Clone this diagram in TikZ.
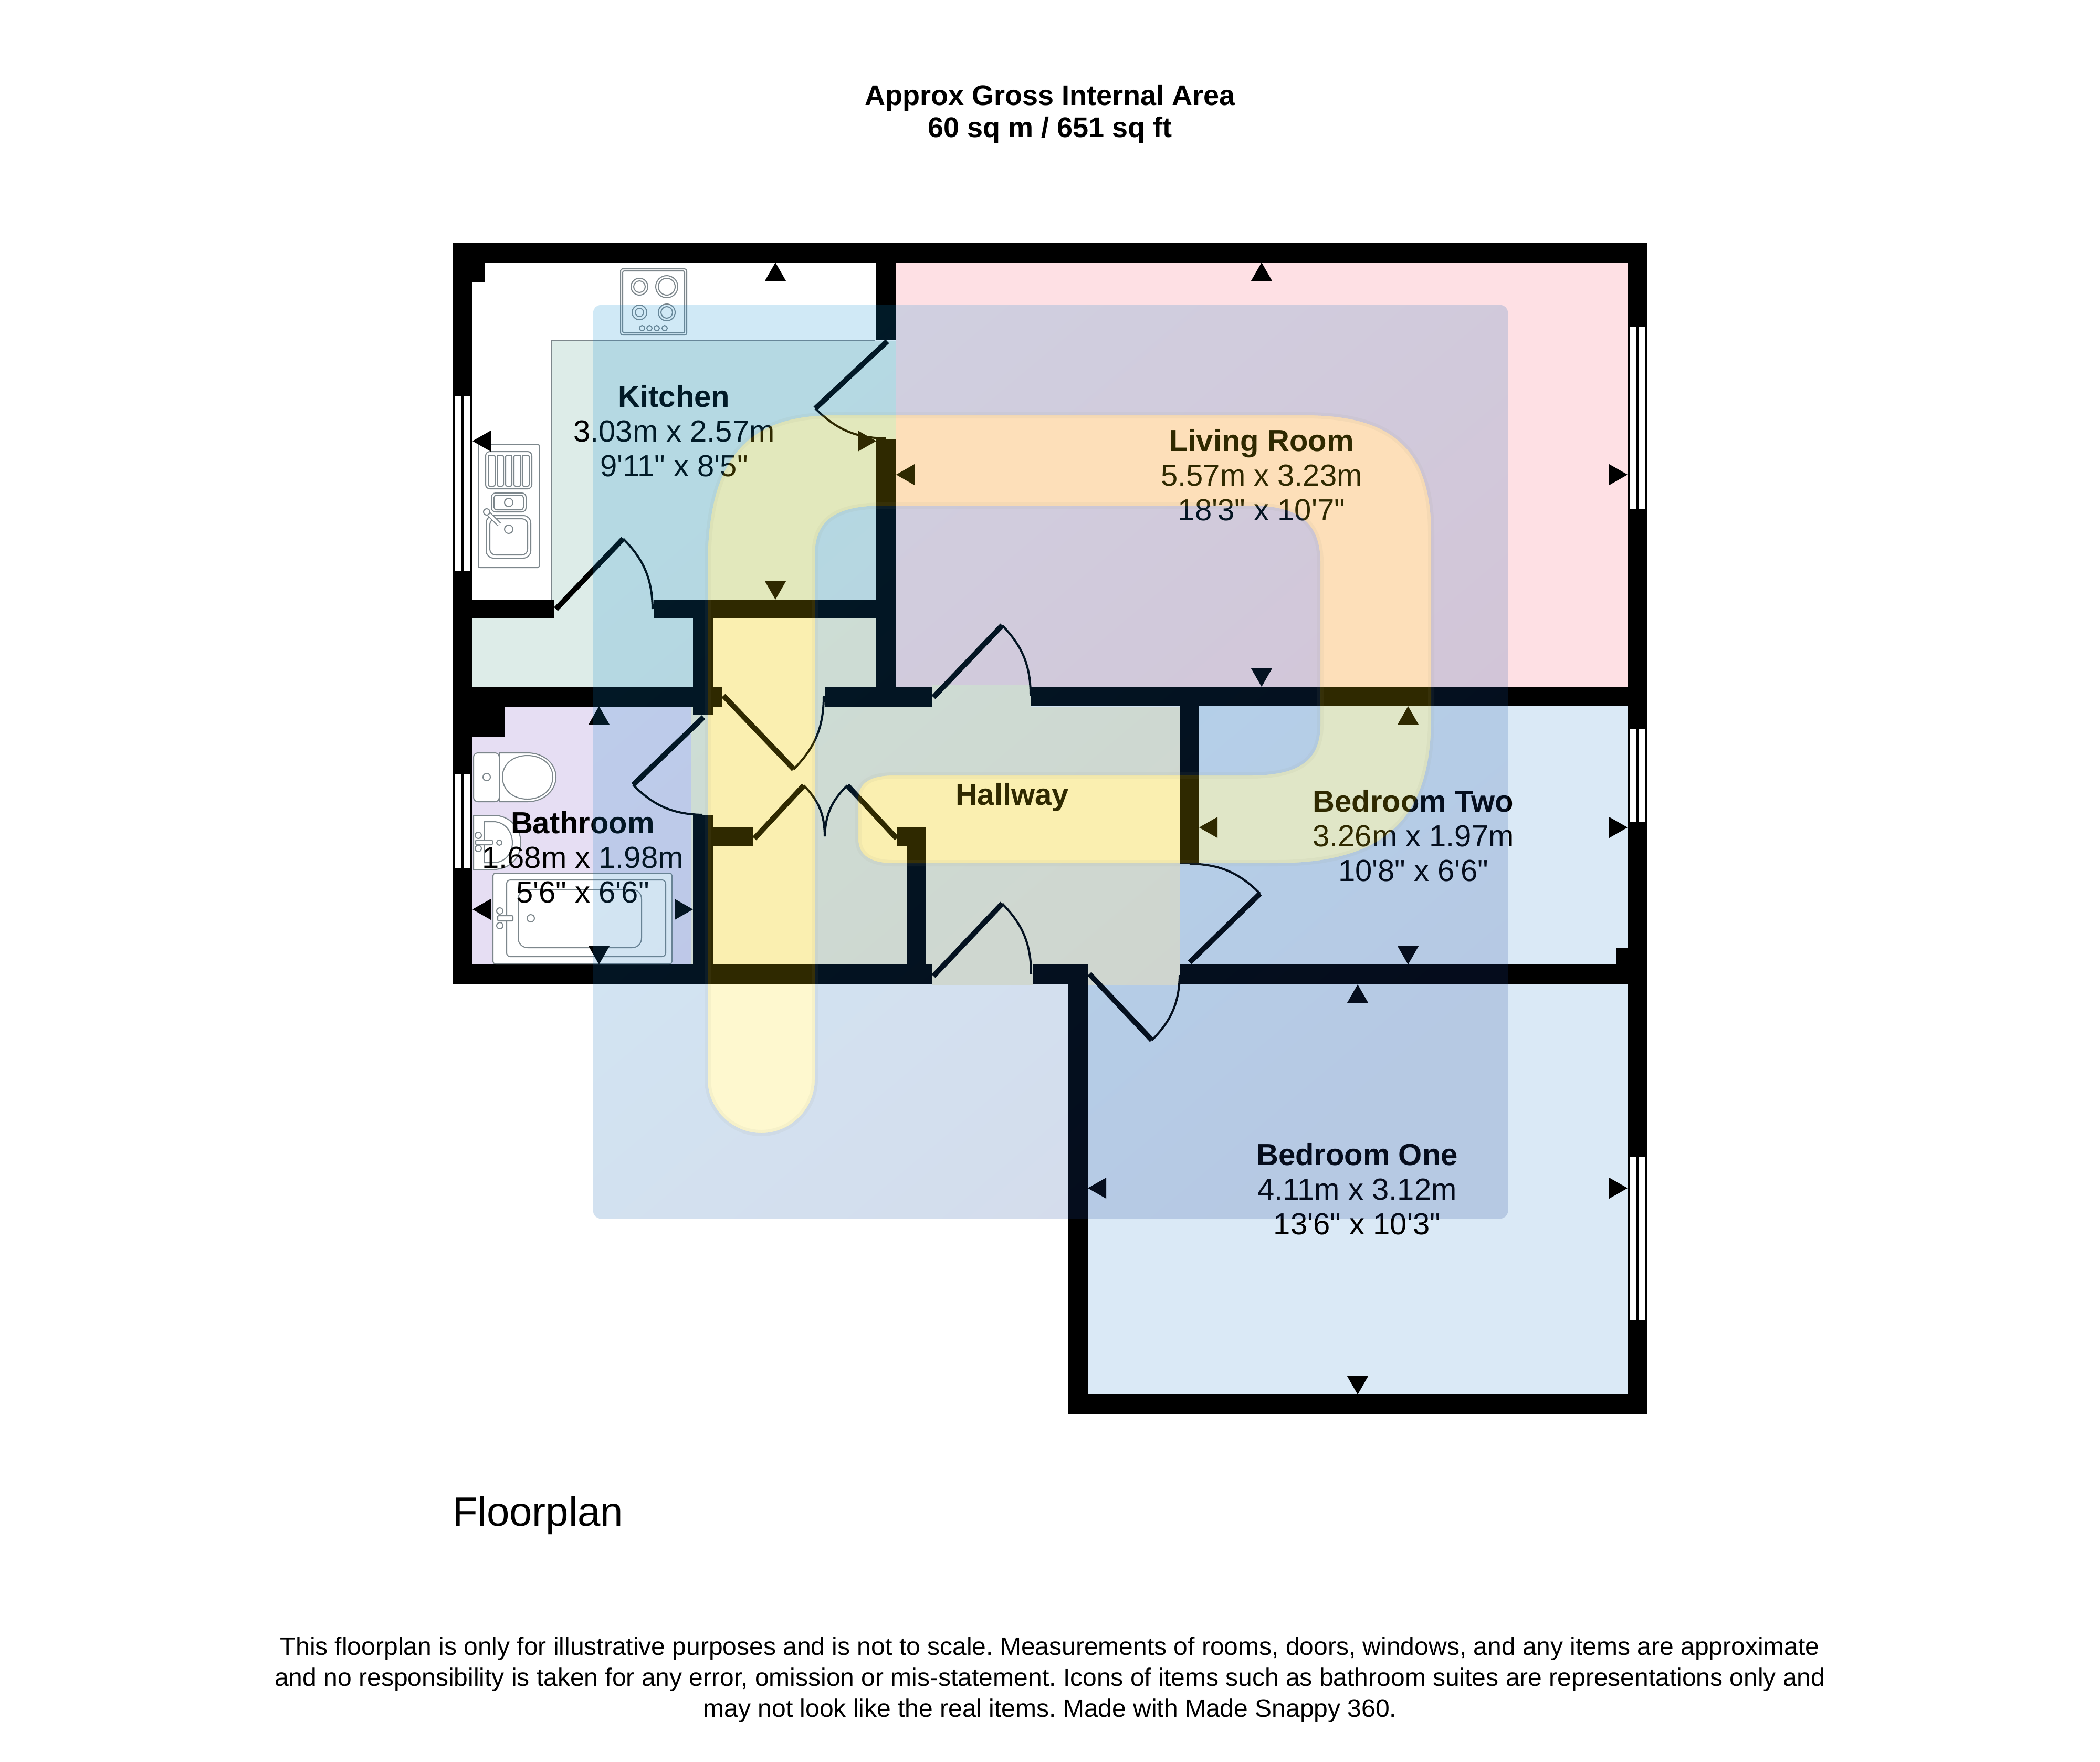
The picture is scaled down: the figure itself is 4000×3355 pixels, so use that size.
\documentclass[tikz,border=0pt]{standalone}
\usepackage{fontspec}
\newfontfamily\lib{Liberation Sans}
\definecolor{livingc}{RGB}{254,224,228}
\definecolor{bedc}{RGB}{218,233,246}
\definecolor{bathc}{RGB}{230,222,243}
\definecolor{kitc}{RGB}{221,236,232}
\definecolor{hallc}{RGB}{250,244,217}
\definecolor{fitc}{RGB}{125,135,140}
\definecolor{logoA}{RGB}{10,140,210}
\definecolor{logoB}{RGB}{30,65,150}
\definecolor{logoY}{RGB}{250,220,0}
\definecolor{logoE}{RGB}{150,150,125}
\tikzset{
  x=1pt,y=-1pt,
  wall/.style={fill=black},
  pane/.style={fill=white},
  leaf/.style={draw=black,line width=10pt},
  swing/.style={draw=black,line width=4pt,bend left=22},
  tri/.style={fill=black},
  fit/.style={draw=fitc,line width=2pt,fill=white},
  fitn/.style={draw=fitc,line width=2pt},
  roomtext/.style={inner sep=0pt,align=center,font=\lib\fontsize{58}{66}\selectfont},
  titletext/.style={inner sep=0pt,align=center,font=\lib\bfseries\fontsize{54}{61}\selectfont},
  notetext/.style={inner sep=0pt,align=center,font=\lib\fontsize{48}{59}\selectfont},
  plantext/.style={inner sep=0pt,anchor=west,font=\lib\fontsize{78}{90}\selectfont}
}
\newcommand{\Pshape}{(1348,2056) -- (1348,1079) .. controls (1348,877) and (1420,791) .. (1587,791)
  -- (2487,791) .. controls (2654,791) and (2726,858) .. (2726,1016)
  -- (2726,1367) .. controls (2726,1561) and (2637,1644) .. (2429,1644)
  -- (1702,1644) .. controls (1660,1644) and (1635,1630) .. (1635,1598)
  -- (1635,1521) .. controls (1635,1490) and (1660,1477) .. (1702,1477)
  -- (2381,1477) .. controls (2475,1477) and (2515,1448) .. (2515,1380)
  -- (2515,1072) .. controls (2515,996) and (2475,963) .. (2381,963)
  -- (1683,963) .. controls (1591,963) and (1552,991) .. (1552,1058)
  -- (1552,2056) .. controls (1552,2111) and (1507,2158) .. (1450,2158)
  .. controls (1393,2158) and (1348,2111) .. (1348,2056) -- cycle}
\begin{document}
\frenchspacing
\begin{tikzpicture}
\useasboundingbox (0,0) rectangle (4000,3355);
\fill[white] (0,0) rectangle (4000,3355);
% floors
\fill[livingc] (1707,500) rectangle (3100,1308);
\fill[bedc] (2284,1345) rectangle (3100,1837);
\fill[bedc] (2244,1645) rectangle (2284,1837);
\fill[bedc] (2072,1875) rectangle (3100,2656);
\fill[bathc] (900,1346) rectangle (1317,1837);
\fill[kitc] (1050,649) rectangle (1707,1142);
\fill[kitc] (1050,1142) rectangle (1320,1178);
\fill[kitc] (900,1178) rectangle (1320,1308);
\fill[hallc] (1358,1178) rectangle (1669,1346);
\fill[hallc] (1317,1346) rectangle (2247,1837);
\fill[hallc] (1376,1305) rectangle (1571,1346);
\fill[hallc] (1775,1305) rectangle (1964,1346);
\fill[hallc] (1776,1837) rectangle (1967,1877);
\fill[hallc] (2072,1837) rectangle (2247,1877);
% walls
\fill[wall] (862,462) rectangle (3138,500);
\fill[wall] (862,462) rectangle (900,1875);
\fill[wall] (862,500) rectangle (924,538);
\fill[wall] (1669,500) rectangle (1707,647);
\fill[wall] (1669,837) rectangle (1707,1346);
\fill[wall] (900,1142) rectangle (1056,1178);
\fill[wall] (1245,1142) rectangle (1707,1178);
\fill[wall] (1320,1142) rectangle (1358,1362);
\fill[wall] (900,1308) rectangle (1376,1346);
\fill[wall] (1571,1308) rectangle (1775,1346);
\fill[wall] (1964,1308) rectangle (3138,1345);
\fill[wall] (900,1346) rectangle (962,1403);
\fill[wall] (1320,1553) rectangle (1358,1875);
\fill[wall] (1358,1575) rectangle (1435,1612);
\fill[wall] (1709,1575) rectangle (1764,1612);
\fill[wall] (1727,1575) rectangle (1764,1875);
\fill[wall] (862,1837) rectangle (1776,1875);
\fill[wall] (1967,1837) rectangle (2072,1875);
\fill[wall] (2247,1837) rectangle (3138,1875);
\fill[wall] (2247,1345) rectangle (2284,1645);
\fill[wall] (3100,462) rectangle (3138,2693);
\fill[wall] (3079,1805) rectangle (3100,1837);
\fill[wall] (2035,1875) rectangle (2072,2693);
\fill[wall] (2035,2656) rectangle (3138,2693);
% windows
\foreach \a/\b in {755/1088,1474/1654}{
  \fill[pane] (866,\a) rectangle (879,\b);
  \fill[pane] (883,\a) rectangle (896,\b);}
\foreach \a/\b in {622/969,1388/1565,2204/2515}{
  \fill[pane] (3104,\a) rectangle (3117,\b);
  \fill[pane] (3121,\a) rectangle (3134,\b);}
% kitchen worktop edge
\draw[fitn] (1050,1142) -- (1050,649) -- (1667,649);
% doors
\draw[leaf] (1059,1160) -- (1187,1026);
\draw[swing] (1187,1026) to (1243,1160);
\draw[leaf] (1690,650) -- (1553,778);
\draw[swing] (1687,835) to (1553,778);
\draw[leaf] (1340,1366) -- (1206,1495);
\draw[swing] (1338,1552) to (1206,1495);
\draw[leaf] (1378,1325) -- (1512,1465);
\draw[swing] (1569,1326) to (1512,1465);
\draw[leaf] (1437,1597) -- (1531,1496);
\draw[swing] (1531,1496) to (1571,1593);
\draw[leaf] (1708,1597) -- (1614,1496);
\draw[swing] (1571,1593) to (1614,1496);
\draw[leaf] (1778,1328) -- (1909,1191);
\draw[swing] (1909,1191) to (1963,1325);
\draw[leaf] (1778,1859) -- (1909,1721);
\draw[swing] (1909,1721) to (1964,1855);
\draw[leaf] (2075,1855) -- (2194,1981);
\draw[swing] (2247,1857) to (2194,1981);
\draw[leaf] (2266,1833) -- (2400,1702);
\draw[swing] (2266,1645) to (2400,1702);
% cooker
\draw[fit,rounded corners=4pt] (1182,512) rectangle (1308,638);
\draw[fitn,rounded corners=3pt] (1186,516) rectangle (1304,634);
\foreach \x/\y/\r in {1218/546/16,1218/546/11,1270/546/21,1270/546/16,1218/595/14,1218/595/8,1270/595/16,1270/595/11,1223/625/5,1237/625/5,1251/625/5,1266/625/5}{
  \draw[fitn] (\x,\y) circle[radius=\r];}
% sink
\draw[fit,rounded corners=3pt] (911,846) rectangle (1027,1081);
\draw[fitn,rounded corners=8pt] (925,860) rectangle (1013,931);
\foreach \a/\b in {930/943,947/959,963/975,979/992,995/1008}{
  \draw[fitn,rounded corners=3pt] (\a,867) rectangle (\b,926);}
\draw[fitn,rounded corners=8pt] (936,939) rectangle (1002,975);
\draw[fitn,rounded corners=5pt] (941,943) rectangle (997,971);
\draw[fitn] (969,957) circle[radius=8];
\draw[fitn,rounded corners=14pt] (926,982) rectangle (1011,1063);
\draw[fitn,rounded corners=11pt] (933,988) rectangle (1005,1057);
\draw[fitn] (969,1008) circle[radius=8];
\draw[draw=fitc,line width=9pt] (928,976) -- (951,999);
\draw[draw=white,line width=5pt] (928,976) -- (951,999);
\draw[fit] (927,975) circle[radius=6];
% toilet
\draw[fit] (951,1434) -- (1005,1434) .. controls (1036,1434) and (1059,1455) .. (1059,1480) .. controls (1059,1505) and (1036,1527) .. (1005,1527) -- (951,1527) -- cycle;
\draw[fitn] (957,1480) .. controls (957,1457) and (975,1439) .. (1005,1439) .. controls (1033,1439) and (1053,1457) .. (1053,1480) .. controls (1053,1503) and (1033,1522) .. (1005,1522) .. controls (975,1522) and (957,1503) .. (957,1480) -- cycle;
\draw[fit,rounded corners=8pt] (902,1434) rectangle (951,1527);
\draw[fitn] (927,1480) circle[radius=7];
% basin
\draw[fit] (902,1553) -- (940,1553) .. controls (972,1553) and (992,1578) .. (992,1605) .. controls (992,1632) and (972,1656) .. (940,1656) -- (902,1656) -- cycle;
\draw[fitn] (922,1565) -- (940,1565) .. controls (962,1565) and (976,1585) .. (976,1605) .. controls (976,1625) and (962,1643) .. (940,1643) -- (922,1643) -- cycle;
\draw[fit,rounded corners=2pt] (906,1600) rectangle (938,1609);
\draw[fit] (911,1591) circle[radius=6];
\draw[fit] (911,1616) circle[radius=6];
\draw[fitn] (951,1605) circle[radius=5];
% bath
\draw[fit,rounded corners=5pt] (939,1663) rectangle (1280,1836);
\draw[fitn,rounded corners=7pt] (965,1676) rectangle (1268,1822);
\draw[fitn,rounded corners=18pt] (987,1694) rectangle (1222,1805);
\draw[fit] (952,1735) circle[radius=6];
\draw[fit] (952,1763) circle[radius=6];
\draw[fit,rounded corners=2pt] (948,1744) rectangle (977,1754);
\draw[fitn] (1011,1749) circle[radius=7];
% measurement triangles
\foreach \x/\y in {1477/500,2403/500,1141/1345,2682/1345,2586/1875}{
  \fill[tri] (\x,\y) -- ++(20,35) -- ++(-40,0) -- cycle;}
\foreach \x/\y in {1477/1142,2403/1308,1141/1837,2682/1837,2586/2656}{
  \fill[tri] (\x,\y) -- ++(20,-35) -- ++(-40,0) -- cycle;}
\foreach \x/\y in {900/840,1707/904,900/1732,2284/1576,2072/2263}{
  \fill[tri] (\x,\y) -- ++(35,-20) -- ++(0,40) -- cycle;}
\foreach \x/\y in {1669/840,3100/904,1320/1732,3100/1576,3100/2263}{
  \fill[tri] (\x,\y) -- ++(-35,-20) -- ++(0,40) -- cycle;}
% labels
\node[titletext] (title) at (2000,217) {Approx Gross Internal Area\\60 sq m / 651 sq ft};
\node[roomtext] (kitchen) at (1284,821) {{\bfseries Kitchen}\\3.03m x 2.57m\\9'11" x 8'5"};
\node[roomtext] (living) at (2403,905) {{\bfseries Living Room}\\5.57m x 3.23m\\18'3" x 10'7"};
\node[roomtext] (bathroom) at (1110,1633) {{\bfseries Bathroom}\\1.68m x 1.98m\\5'6" x 6'6"};
\node[roomtext] (hallway) at (1928,1518) {{\bfseries Hallway}};
\node[roomtext] (bedtwo) at (2692,1592) {{\bfseries Bedroom Two}\\3.26m x 1.97m\\10'8" x 6'6"};
\node[roomtext] (bedone) at (2585,2265) {{\bfseries Bedroom One}\\4.11m x 3.12m\\13'6" x 10'3"};
\node[plantext] (plan) at (862,2886) {Floorplan};
\node[notetext] (note) at (2000,3199) {This floorplan is only for illustrative purposes and is not to scale. Measurements of rooms, doors, windows, and any items are approximate\\and no responsibility is taken for any error, omission or mis-statement. Icons of items such as bathroom suites are representations only and\\may not look like the real items. Made with Made Snappy 360.};
% watermark
\shade[top color=logoA,bottom color=logoB,shading angle=40,opacity=.19,even odd rule]
  [rounded corners=14pt] (1130,581) rectangle (2872,2321) [sharp corners] \Pshape;
\fill[logoY,opacity=.19] \Pshape;
\draw[logoE,opacity=.07,line width=12pt] \Pshape;
\end{tikzpicture}
\end{document}
